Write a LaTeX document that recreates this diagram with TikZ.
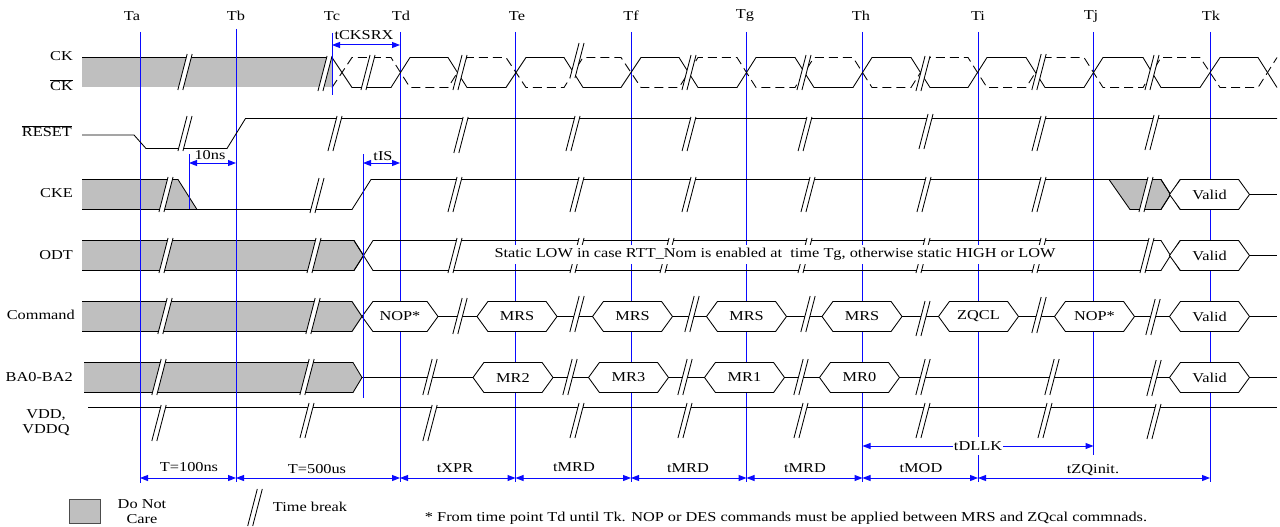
\documentclass[tikz,border=0pt]{standalone}
\usepackage{fontspec}
\setmainfont[FakeStretch=1.2]{Liberation Serif}
\usetikzlibrary{arrows.meta,shapes.symbols,positioning}
\definecolor{dontcare}{RGB}{191,191,191}
\definecolor{tmark}{RGB}{10,10,255}
% two slanted strokes with a white gap: centre x, top y, bottom y
\newcommand{\tbreak}[3]{
    \fill[white] ({#1-2.5-0.13*(#3-#2)},#3) -- ({#1-2.5+0.13*(#3-#2)},#2) -- ({#1+2.5+0.13*(#3-#2)},#2) -- ({#1+2.5-0.13*(#3-#2)},#3) -- cycle;
    \draw[wave] ({#1-2.5-0.13*(#3-#2)},#3) -- ({#1-2.5+0.13*(#3-#2)},#2);
    \draw[wave] ({#1+2.5-0.13*(#3-#2)},#3) -- ({#1+2.5+0.13*(#3-#2)},#2);
}

\begin{document}
\begin{tikzpicture}[
    x=1pt, y=-1pt,
    every node/.style={font=\fontsize{13.6}{15}\selectfont, inner sep=0pt, text=black},
    wave/.style={draw=black, line width=0.85pt},
    care/.style={fill=dontcare, draw=black, line width=0.85pt},
    tline/.style={draw=tmark, line width=1pt},
    span/.style={tmark, line width=1pt, {Triangle[length=8pt,width=6pt]}-{Triangle[length=8pt,width=6pt]}},
    sig/.style={anchor=east},
    hex/.style={signal, signal to=east and west, signal pointer angle=108, draw=black, fill=white,
                line width=0.85pt, minimum width=80pt, minimum height=30pt, outer sep=0pt}
]
    \useasboundingbox (0,0) rectangle (1280,527);

    % Don't care areas
    \fill[dontcare] (82,57.5) rectangle (332,87.5);
    \draw[wave] (82,57.5) -- (332,57.5);
    \draw[white, line width=0.85pt, dashed] (82,87.5) -- (332,87.5);
    \filldraw[care] (82,179.5) -- (178,179.5) -- (197,209.5) -- (82,209.5);
    \filldraw[care] (82,240.5) -- (354,240.5) -- (363.5,255.5) -- (354,270.5) -- (82,270.5);
    \filldraw[care] (82,301.5) -- (352,301.5) -- (362,316.5) -- (352,331.5) -- (82,331.5);
    \filldraw[care] (84,362.5) -- (353,362.5) -- (362,377.5) -- (353,392.5) -- (84,392.5);
    \filldraw[care] (1109,179.5) -- (1161,179.5) -- (1170.5,194.5) -- (1161,209.5) -- (1130,209.5) -- cycle;

    % Clock edges
    \coordinate (ta top) at (140,32);   \coordinate (ta bot) at (140,483);  \coordinate (ta t) at (140,478);
    \coordinate (tb top) at (236,29);   \coordinate (tb bot) at (236,482);  \coordinate (tb t) at (236,478);
    \coordinate (td top) at (400,32);   \coordinate (td bot) at (400,482);  \coordinate (td t) at (400,478);
    \coordinate (te top) at (515.5,32); \coordinate (te bot) at (515.5,482);\coordinate (te t) at (515.5,478);
    \coordinate (tf top) at (631,32);   \coordinate (tf bot) at (631,482);  \coordinate (tf t) at (631,478);
    \coordinate (tg top) at (746.5,32); \coordinate (tg bot) at (746.5,482);\coordinate (tg t) at (746.5,478);
    \coordinate (th top) at (862.5,32); \coordinate (th bot) at (862.5,482);\coordinate (th t) at (862.5,478);
    \coordinate (ti top) at (978,32);   \coordinate (ti bot) at (978,482);  \coordinate (ti t) at (978,478);
    \coordinate (tj top) at (1093.5,32);\coordinate (tj bot) at (1093.5,455);\coordinate (tk top) at (1210,32);
    \coordinate (tk bot) at (1210,482); \coordinate (tk t) at (1210,478);
    \draw[tline] (ta top) -- (ta bot);
    \draw[tline] (tb top) -- (tb bot);
    \draw[tline] (td top) -- (td bot);
    \draw[tline] (te top) -- (te bot);
    \draw[tline] (tf top) -- (tf bot);
    \draw[tline] (tg top) -- (tg bot);
    \draw[tline] (th top) -- (th bot);
    \draw[tline] (ti top) -- (ti bot);
    \draw[tline] (tj top) -- (tj bot);
    \draw[tline] (tk top) -- (tk bot);

    \node (ta) at (132,16) {Ta};
    \node (tb) at (236,16) {Tb};
    \node (tc) at (332,16) {Tc};
    \node (td) at (401,16) {Td};
    \node (te) at (517,16) {Te};
    \node (tf) at (631,16) {Tf};
    \node (tg) at (745,16) {Tg};
    \node (th) at (861,16) {Th};
    \node (ti) at (978,16) {Ti};
    \node (tj) at (1091,16) {Tj};
    \node (tk) at (1211,16) {Tk};

    % Signal names
    \node[sig] (ck) at (73,56) {CK};
    \node[sig] (ckn) at (73,85) {$\overline{\mbox{CK}}$};
    \node[sig] (reset) at (72,131) {$\overline{\mbox{RESET}}$};
    \node[sig] (cke) at (73,193) {CKE};
    \node[sig] (odt) at (73,255) {ODT};
    \node[sig] (cmd) at (75,315) {Command};
    \node[sig] (ba) at (73,377) {BA0-BA2};
    \node (vdd) at (46,415) {VDD,};
    \node (vddq) at (46,430) {VDDQ};

    % CK and its complement
    \draw[wave] (332,57.5) -- (352,87.5) -- (391,87.5) -- (410,57.5) -- (448,57.5) -- (467,87.5) -- (506,87.5) -- (526,57.5) -- (564,57.5) -- (583,87.5) -- (621,87.5) -- (641,57.5) -- (679,57.5) -- (698,87.5) -- (737,87.5) -- (756,57.5) -- (795,57.5) -- (814,87.5) -- (853,87.5) -- (872,57.5) -- (911,57.5) -- (930,87.5) -- (968,87.5) -- (987,57.5) -- (1026,57.5) -- (1045,87.5) -- (1084,87.5) -- (1103,57.5) -- (1143,57.5) -- (1161,87.5) -- (1200,87.5) -- (1220,57.5) -- (1258,57.5) -- (1277,87.5);
    \draw[wave, dash pattern=on 9pt off 5pt] (332,87.5) -- (352,57.5) -- (391,57.5) -- (410,87.5) -- (448,87.5) -- (467,57.5) -- (506,57.5) -- (526,87.5) -- (564,87.5) -- (583,57.5) -- (621,57.5) -- (641,87.5) -- (679,87.5) -- (698,57.5) -- (737,57.5) -- (756,87.5) -- (795,87.5) -- (814,57.5) -- (853,57.5) -- (872,87.5) -- (911,87.5) -- (930,57.5) -- (968,57.5) -- (987,87.5) -- (1026,87.5) -- (1045,57.5) -- (1084,57.5) -- (1103,87.5) -- (1143,87.5) -- (1161,57.5) -- (1200,57.5) -- (1220,87.5) -- (1258,87.5) -- (1277,57.5);

    % RESET
    \draw[wave] (82,135) -- (134,135) -- (146,148.5) -- (227,148.5) -- (245.5,118.5) -- (1277,118.5);

    % CKE
    \draw[wave] (197,209.5) -- (352,209.5) -- (371,179.5) -- (1109,179.5);
    \draw[wave] (1161,179.5) -- (1180,209.5);
    \draw[wave] (1161,209.5) -- (1180,179.5);
    \node[hex] (cke valid) at (1209.5,194.5) {Valid};
    \coordinate (cke end) at (1277,194.5);
    \draw[wave] (cke valid.east) -- (cke end);

    % ODT
    \draw[wave] (354,240.5) -- (373,270.5) -- (1161,270.5) -- (1180,240.5);
    \draw[wave] (354,270.5) -- (373,240.5) -- (1161,240.5) -- (1180,270.5);
    \node[hex] (odt valid) at (1209.5,255.5) {Valid};
    \coordinate (odt end) at (1277,255.5);
    \draw[wave] (odt valid.east) -- (odt end);

    % Command
    \node[hex, minimum width=76pt] (nop1) at (400,316.5) {NOP*};
    \node[hex] (mrs1) at (517,316.5) {MRS};
    \node[hex] (mrs2) at (632.5,316.5) {MRS};
    \node[hex] (mrs3) at (746.5,316.5) {MRS};
    \node[hex] (mrs4) at (862,316.5) {MRS};
    \node[hex] (zqcl) at (978.5,316.5) {ZQCL};
    \node[hex] (nop2) at (1094.5,316.5) {NOP*};
    \node[hex] (cmd valid) at (1209.5,316.5) {Valid};
    \coordinate (cmd end) at (1277,316.5);
    \draw[wave] (nop1) -- (mrs1);
    \draw[wave] (mrs1) -- (mrs2);
    \draw[wave] (mrs2) -- (mrs3);
    \draw[wave] (mrs3) -- (mrs4);
    \draw[wave] (mrs4) -- (zqcl);
    \draw[wave] (zqcl) -- (nop2);
    \draw[wave] (nop2) -- (cmd valid);
    \draw[wave] (cmd valid.east) -- (cmd end);

    % BA0-BA2
    \coordinate (ba tip) at (362,377.5);
    \node[hex] (mr2) at (513,377.5) {MR2};
    \node[hex] (mr3) at (628.5,377.5) {MR3};
    \node[hex] (mr1) at (744.5,377.5) {MR1};
    \node[hex] (mr0) at (859.5,377.5) {MR0};
    \node[hex] (ba valid) at (1209.5,377.5) {Valid};
    \coordinate (ba end) at (1277,377.5);
    \draw[wave] (ba tip) -- (mr2);
    \draw[wave] (mr2) -- (mr3);
    \draw[wave] (mr3) -- (mr1);
    \draw[wave] (mr1) -- (mr0);
    \draw[wave] (mr0) -- (ba valid);
    \draw[wave] (ba valid.east) -- (ba end);

    % VDD
    \coordinate (vdd start) at (88,407.5);
    \coordinate (vdd end) at (1277,407.5);
    \draw[wave] (vdd start) -- (vdd end);

    % Time breaks
    \tbreak{185}{54}{90} \tbreak{325}{56}{91} \tbreak{368}{55}{90} \tbreak{460}{55}{90} \tbreak{577}{43}{78} \tbreak{689}{55}{90} \tbreak{804}{55}{90} \tbreak{923}{56}{91} \tbreak{1039}{54}{90} \tbreak{1152}{55}{90}
    \tbreak{185}{116}{151} \tbreak{335}{116}{151} \tbreak{461}{117}{153} \tbreak{573}{116}{151} \tbreak{689}{117}{151} \tbreak{805}{117}{151} \tbreak{926}{114}{149} \tbreak{1039}{116}{151} \tbreak{1152}{115}{150}
    \tbreak{166}{177}{212} \tbreak{317}{178}{213} \tbreak{455}{177}{212} \tbreak{577}{177}{212} \tbreak{689}{177}{212} \tbreak{808}{177}{212} \tbreak{924}{177}{212} \tbreak{1039}{177}{212} \tbreak{1146}{177}{212}
    \tbreak{166}{238}{273} \tbreak{314}{238}{273} \tbreak{455}{238}{273} \tbreak{577}{238}{273} \tbreak{667}{238}{273} \tbreak{805}{238}{273} \tbreak{923}{238}{273} \tbreak{1039}{238}{273} \tbreak{1147}{238}{273}
    \tbreak{165}{298}{334} \tbreak{313}{298}{334} \tbreak{460}{298}{334} \tbreak{577}{296}{332} \tbreak{692}{296}{332} \tbreak{808}{296}{332} \tbreak{923}{301}{336} \tbreak{1039}{297}{333} \tbreak{1153}{299}{335}
    \tbreak{159}{359}{395} \tbreak{307}{359}{395} \tbreak{430}{359}{395} \tbreak{570}{359}{395} \tbreak{685}{359}{395} \tbreak{801}{359}{395} \tbreak{923}{359}{395} \tbreak{1052}{359}{395} \tbreak{1154}{360}{396}
    \tbreak{159}{405}{441} \tbreak{307}{403}{438} \tbreak{430}{405}{441} \tbreak{577}{403}{438} \tbreak{685}{403}{438} \tbreak{801}{403}{438} \tbreak{923}{403}{438} \tbreak{1045}{403}{438} \tbreak{1154}{404}{439}

    \node[fill=white, inner xsep=2pt, minimum height=19pt] (odt note) at (775,254.5) {Static LOW in case RTT\_Nom is enabled at\ \ time Tg, otherwise static HIGH or LOW};

    % Timing marks
    \coordinate (tc top) at (332,33);   \coordinate (tc bot) at (332,95);   \coordinate (tc a) at (332,45);  \coordinate (td a) at (400,45);
    \coordinate (p10 top) at (189,154); \coordinate (p10 bot) at (189,209); \coordinate (p10 a) at (189,163);\coordinate (tb a) at (236,163);
    \coordinate (tis top) at (363,154); \coordinate (tis bot) at (363,398); \coordinate (tis a) at (363,163);\coordinate (td b) at (400,163);
    \coordinate (tj a) at (1093.5,446); \coordinate (th a) at (862.5,446);
    \draw[tline] (tc top) -- (tc bot);
    \draw[tline] (p10 top) -- (p10 bot);
    \draw[tline] (tis top) -- (tis bot);

    \draw[span] (tc a) -- (td a);
    \node (lckrx) at (364,35) {tCKSRX};
    \draw[span] (p10 a) -- (tb a);
    \node (l10) at (210,155) {10ns};
    \draw[span] (tis a) -- (td b);
    \node (lis) at (383,156) {tIS};
    \draw[span] (th a) -- node[fill=white, inner xsep=1pt, minimum height=18pt] (ldllk) {tDLLK} (tj a);

    \draw[span] (ta t) -- (tb t);
    \draw[span] (tb t) -- (td t);
    \draw[span] (td t) -- (te t);
    \draw[span] (te t) -- (tf t);
    \draw[span] (tf t) -- (tg t);
    \draw[span] (tg t) -- (th t);
    \draw[span] (th t) -- (ti t);
    \draw[span] (ti t) -- (tk t);
    \node (l100) at (189,467) {T=100ns};
    \node (l500) at (317,469) {T=500us};
    \node (lxpr) at (455,468) {tXPR};
    \node (lmrd1) at (574,467) {tMRD};
    \node (lmrd2) at (688,468) {tMRD};
    \node (lmrd3) at (805,468) {tMRD};
    \node (lmod) at (921,468) {tMOD};
    \node (lzq) at (1093,470) {tZQinit.};

    % Legend
    \node[draw=black!70, fill=dontcare, line width=1pt, minimum width=31pt, minimum height=24pt] (key care) at (84.5,511) {};
    \node (key care l1) at (142,504) {Do Not};
    \node (key care l2) at (142,519) {Care};
    \tbreak{255}{489}{526}
    \node (key break) at (310,507) {Time break};
    \node (foot) at (786,518) {* From time point Td until Tk. NOP or DES commands must be applied between MRS and ZQcal commnads.};
\end{tikzpicture}
\end{document}
